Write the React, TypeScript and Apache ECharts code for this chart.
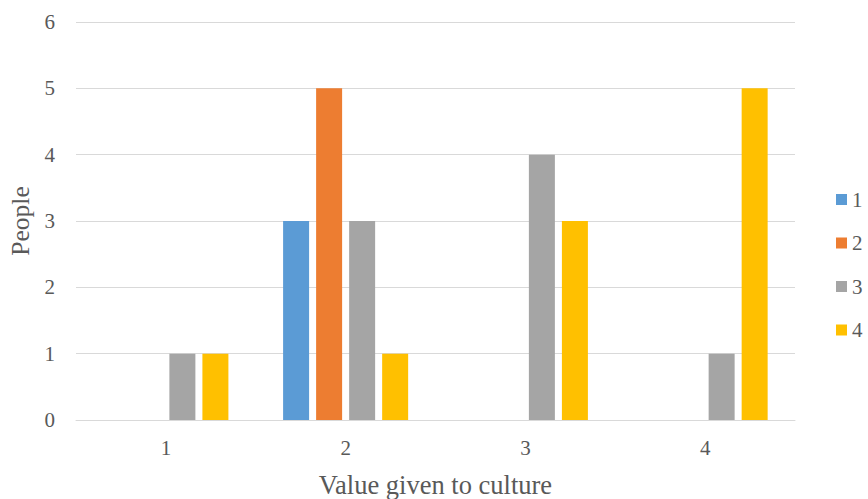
import React, { useEffect, useRef } from "react";
import * as echarts from "echarts";

const categories = ["1", "2", "3", "4"];
const seriesNames = ["1", "2", "3", "4"];
const s1 = [0, 3, 0, 0];
const s2 = [0, 5, 0, 0];
const s3 = [1, 3, 4, 1];
const s4 = [1, 1, 3, 5];
const colors = ["#5B9BD5", "#ED7D31", "#A5A5A5", "#FFC000"];

export default function App() {
  const ref = useRef<HTMLDivElement>(null);
  useEffect(() => {
    const chart = echarts.init(ref.current!, null, { renderer: "svg" });
    const font = "Liberation Serif";
    const data = [s1, s2, s3, s4];
    chart.setOption({
      animation: false,
      textStyle: { fontFamily: font },
      grid: { left: 76, right: 73, top: 22, bottom: 79, containLabel: false, outerBoundsMode: "none" },
      legend: {
        orient: "vertical",
        left: 836,
        top: 189,
        padding: 0,
        itemWidth: 11,
        itemHeight: 11,
        itemGap: 22.5,
        icon: "rect",
        textStyle: { fontFamily: font, fontSize: 21, color: "#595959" },
        data: seriesNames,
      },
      xAxis: {
        type: "category",
        data: categories,
        name: "Value given to culture",
        nameLocation: "middle",
        nameGap: 51,
        nameTextStyle: { fontFamily: font, fontSize: 26.5, color: "#595959" },
        axisLine: { show: true, lineStyle: { color: "#d9d9d9" } },
        axisTick: { show: false },
        axisLabel: { fontFamily: font, fontSize: 21, color: "#595959", margin: 17 },
      },
      yAxis: {
        type: "value",
        min: 0,
        max: 6,
        interval: 1,
        name: "People",
        nameLocation: "middle",
        nameGap: 41,
        nameRotate: 90,
        nameTextStyle: { fontFamily: font, fontSize: 25.5, color: "#595959" },
        axisLine: { show: false },
        axisTick: { show: false },
        splitLine: { lineStyle: { color: "#d9d9d9", width: 1 } },
        axisLabel: { fontFamily: font, fontSize: 21, color: "#595959", margin: 21 },
      },
      series: seriesNames.map((n, i) => ({
        name: n,
        type: "bar",
        data: data[i],
        barWidth: 26,
        barGap: "27%",
        itemStyle: { color: colors[i] },
      })),
    });
    return () => chart.dispose();
  }, []);
  return <div ref={ref} style={{ width: 868, height: 499, position: "absolute", left: 0, top: 0 }} />;
}
